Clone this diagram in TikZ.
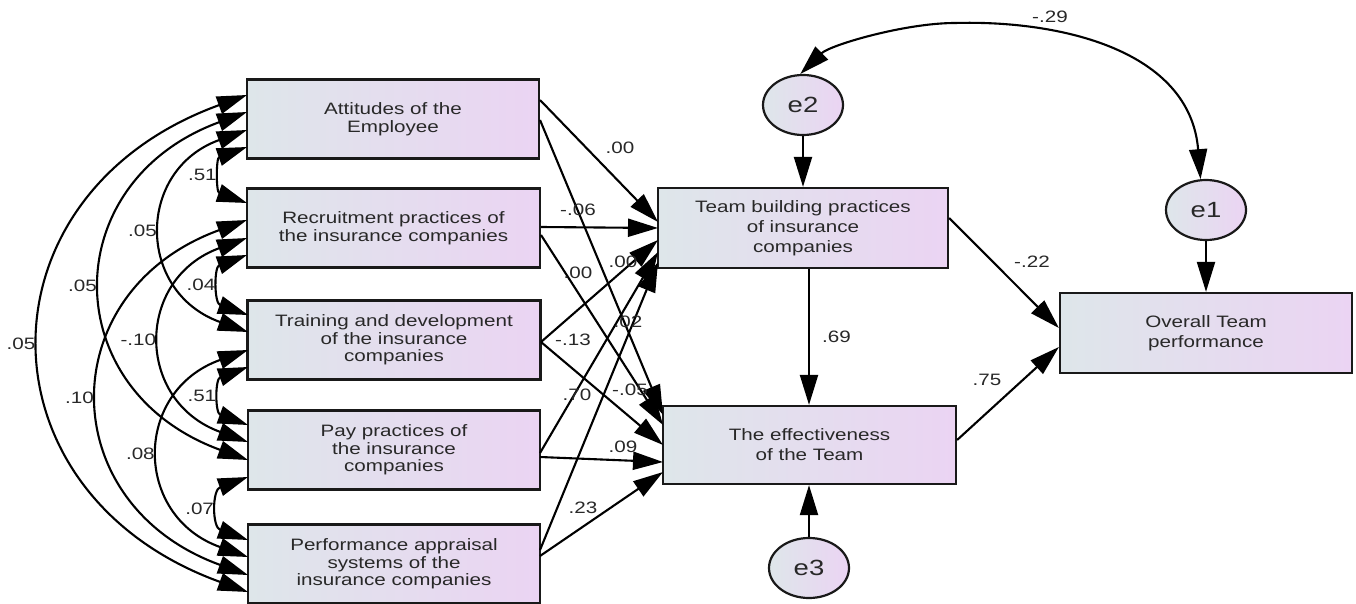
\documentclass[tikz,border=0pt]{standalone}
\usepackage{fontspec}
\setmainfont{Liberation Sans}[FakeStretch=1.25]
\usetikzlibrary{arrows.meta,shapes.geometric}
\definecolor{boxL}{RGB}{222,230,234}
\definecolor{boxR}{RGB}{235,212,243}
\definecolor{txt}{RGB}{40,40,40}
\begin{document}
\begin{tikzpicture}[x=1pt,y=-1pt,
  box/.style={draw=black!90, line width=2.2pt, left color=boxL, right color=boxR,
    text=txt, align=center, inner sep=0pt, minimum height=79pt,
    font=\fontsize{16.5}{17.5}\selectfont},
  rbox/.style={box, font=\fontsize{16.5}{20}\selectfont},
  err/.style={ellipse, draw=black!90, line width=2.2pt, left color=boxL, right color=boxR,
    text=txt, inner sep=0pt, minimum width=80pt, minimum height=60pt,
    font=\fontsize{22}{22}\selectfont},
  arr/.style={line width=2.1pt, -{Triangle[length=30pt,width=18pt]}},
  dbl/.style={line width=2.1pt, {Triangle[length=30pt,width=18pt]}-{Triangle[length=30pt,width=18pt]}},
  lbl/.style={text=txt, inner sep=0pt, font=\fontsize{16.5}{17.5}\selectfont},
  clbl/.style={lbl, anchor=east, xshift=-6pt}]
\useasboundingbox (0,0) rectangle (1356,604);
% left boxes
\node[box, minimum width=292pt] (A) at (393,119) {Attitudes of the\\Employee};
\node[box, minimum width=293pt] (B) at (393.5,228) {Recruitment practices of\\the insurance companies};
\node[box, minimum width=293pt] (C) at (394,340) {Training and development\\of the insurance\\companies};
\node[box, minimum width=292pt] (D) at (394,450) {Pay practices of\\the insurance\\companies};
\node[box, minimum width=292pt] (E) at (394,564) {Performance appraisal\\systems of the\\insurance companies};
% right boxes
\node[rbox, minimum width=290pt, minimum height=80pt] (T) at (803,228) {Team building practices\\of insurance\\companies};
\node[rbox, minimum width=293pt, minimum height=78pt] (F) at (809.5,445) {The effectiveness\\of the Team};
\node[rbox, minimum width=292pt, minimum height=80pt] (O) at (1206,333) {Overall Team\\performance};
% error terms
\node[err] (e2) at (803,105) {e2};
\node[err] (e1) at (1206,210) {e1};
\node[err] (e3) at (809,568) {e3};
% ports on the left sides
\coordinate (a1) at (247,95);  \coordinate (a2) at (247,112); \coordinate (a3) at (247,130); \coordinate (a4) at (247,147);
\coordinate (b1) at (247,203); \coordinate (b2) at (247,220); \coordinate (b3) at (247,238); \coordinate (b4) at (247,255);
\coordinate (c1) at (248,315); \coordinate (c2) at (248,332); \coordinate (c3) at (248,350); \coordinate (c4) at (248,367);
\coordinate (d1) at (248,425); \coordinate (d2) at (248,442); \coordinate (d3) at (248,460); \coordinate (d4) at (248,477);
\coordinate (f1) at (248,540); \coordinate (f2) at (248,557); \coordinate (f3) at (248,575); \coordinate (f4) at (248,592);
% covariances among the left boxes
\draw[dbl] (a4) .. controls (216,158) and (216,192) .. node[clbl,pos=.5]{.51} (b1);
\draw[dbl] (a3) .. controls (136,170) and (136,292) .. node[clbl,pos=.5]{.05} (c2);
\draw[dbl] (a2) .. controls (56,182) and (56,390) .. node[clbl,pos=.5]{.05} (d3);
\draw[dbl] (a1) .. controls (-26,194) and (-26,493) .. node[clbl,pos=.5]{.05} (f4);
\draw[dbl] (b4) .. controls (214,267) and (214,303) .. node[clbl,pos=.5]{.04} (c1);
\draw[dbl] (b3) .. controls (135,279) and (135,401) .. node[clbl,pos=.5]{-.10} (d2);
\draw[dbl] (b2) .. controls (52,291) and (52,504) .. node[clbl,pos=.5]{.10} (f3);
\draw[dbl] (c4) .. controls (215,379) and (215,413) .. node[clbl,pos=.5]{.51} (d1);
\draw[dbl] (c3) .. controls (133,391) and (133,516) .. node[clbl,pos=.5]{.08} (f2);
\draw[dbl] (d4) .. controls (212,490) and (212,527) .. node[clbl,pos=.5]{.07} (f1);
% ports on the right sides of the left boxes
\coordinate (ar1) at (540,100); \coordinate (ar2) at (540,120);
\coordinate (br1) at (541,227); \coordinate (br2) at (541,235);
\coordinate (cr) at (541,342);
\coordinate (dr1) at (540,453); \coordinate (dr2) at (540,457);
\coordinate (er1) at (540,550); \coordinate (er2) at (540,556);
% ports on T and F
\coordinate (t1) at (658,222); \coordinate (t2) at (658,228); \coordinate (t3) at (658,240);
\coordinate (t4) at (658,252); \coordinate (t5) at (658,262);
\coordinate (g1) at (663,415); \coordinate (g2) at (663,425); \coordinate (g3) at (663,445);
\coordinate (g4) at (663,462); \coordinate (g5) at (663,472);
% regressions
\draw[arr] (ar1) -- (t1);
\draw[arr] (ar2) -- (g1);
\draw[arr] (br1) -- (t2);
\draw[arr] (br2) -- (g2);
\draw[arr] (cr) -- (t3);
\draw[arr] (cr) -- (g3);
\draw[arr] (dr1) -- (t4);
\draw[arr] (dr2) -- (g4);
\draw[arr] (er1) -- (t5);
\draw[arr] (er2) -- (g5);
\node[lbl] at (620,148) {.00};
\node[lbl] at (578,210) {-.06};
\node[lbl] at (578,273) {.00};
\node[lbl] at (623,262) {.00};
\node[lbl] at (628,322) {.02};
\node[lbl] at (573,340) {-.13};
\node[lbl] at (577,395) {.70};
\node[lbl] at (630,390) {-.05};
\node[lbl] at (623,447) {.09};
\node[lbl] at (583,508) {.23};
% right part
\draw[arr] (T.south -| e3) -- node[lbl, right=12pt]{.69} (F.north -| e3);
\draw[arr] (e2) -- (T);
\draw[arr] (e1) -- (O);
\draw[arr] (e3) -- (F.south -| e3);
\draw[arr] (T.east |- 0,218) -- (O.west |- 0,328);
\draw[arr] (F.east |- 0,440) -- (O.west |- 0,347);
\node[lbl] at (1032,262) {-.22};
\node[lbl] at (987,380) {.75};
\coordinate (top) at (955,23);
\draw[dbl] (e2.95) .. controls (830,45) and (905,23) .. (top)
  .. controls (1060,20) and (1190,50) .. (e1.100);
\node[lbl] at (1050,17) {-.29};
\end{tikzpicture}
\end{document}
